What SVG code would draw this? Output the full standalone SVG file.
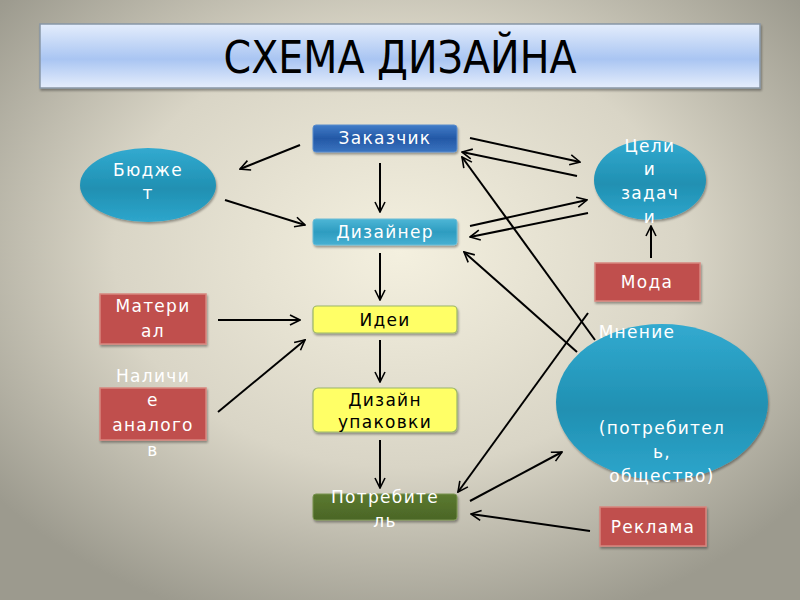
<svg xmlns="http://www.w3.org/2000/svg" width="800" height="600" viewBox="0 0 800 600">
<defs>
<radialGradient id="bg" cx="50%" cy="42%" r="65%">
<stop offset="0" stop-color="#f4f0df"/>
<stop offset="0.55" stop-color="#d9d5c6"/>
<stop offset="1" stop-color="#9c9a8e"/>
</radialGradient>
<linearGradient id="title" x1="0" y1="0" x2="0" y2="1">
<stop offset="0" stop-color="#e4edfc"/>
<stop offset="0.55" stop-color="#a9c5f2"/>
<stop offset="1" stop-color="#e6eefc"/>
</linearGradient>
<linearGradient id="blue" x1="0" y1="0" x2="0" y2="1">
<stop offset="0" stop-color="#3f7cc8"/>
<stop offset="0.5" stop-color="#2458a6"/>
<stop offset="1" stop-color="#3a74c0"/>
</linearGradient>
<linearGradient id="teal" x1="0" y1="0" x2="0" y2="1">
<stop offset="0" stop-color="#4cb6d6"/>
<stop offset="0.5" stop-color="#2e9cc0"/>
<stop offset="1" stop-color="#46b0d2"/>
</linearGradient>
<linearGradient id="ell" x1="0" y1="0" x2="0" y2="1">
<stop offset="0" stop-color="#32aad0"/>
<stop offset="0.55" stop-color="#2090b2"/>
<stop offset="1" stop-color="#2ea6cc"/>
</linearGradient>
<linearGradient id="olive" x1="0" y1="0" x2="0" y2="1">
<stop offset="0" stop-color="#5c7a30"/>
<stop offset="1" stop-color="#4a6526"/>
</linearGradient>
<marker id="ah" viewBox="0 0 12 12" refX="11" refY="6" markerWidth="12" markerHeight="12" markerUnits="userSpaceOnUse" orient="auto">
<path d="M1,1 L11,6 L1,11" fill="none" stroke="#000" stroke-width="1.6"/>
</marker>
<filter id="sh" x="-10%" y="-10%" width="130%" height="140%">
<feDropShadow dx="1" dy="2" stdDeviation="1.2" flood-color="#000" flood-opacity="0.35"/>
</filter>
</defs>
<style>
.t{font-family:"DejaVu Sans","Verdana",sans-serif;font-size:17px;text-anchor:middle;letter-spacing:1.3px}
.w{fill:#ffffff}
.k{fill:#000000}
.red{fill:#c0504d;stroke:#d8867f;stroke-width:1.5}
.yel{fill:#ffff66;stroke:#9bb56a;stroke-width:1.2}
.c line{stroke:#000;stroke-width:2;marker-end:url(#ah)}
</style>
<rect width="800" height="600" fill="url(#bg)"/>
<g id="title-box">
<rect x="40" y="24" width="720" height="64" fill="url(#title)" stroke="#8896a6" stroke-width="1.5" filter="url(#sh)"/>
<text x="400" y="73" font-family="DejaVu Sans Condensed, DejaVu Sans, sans-serif" font-size="44" text-anchor="middle" fill="#000">СХЕМА ДИЗАЙНА</text>
</g>
<g class="c" id="connectors">
<line x1="300" y1="145" x2="240" y2="169"/>
<line x1="225" y1="200" x2="305" y2="225"/>
<line x1="380" y1="163" x2="380" y2="212"/>
<line x1="470" y1="138" x2="580" y2="162"/>
<line x1="577" y1="176" x2="462" y2="152"/>
<line x1="470" y1="226" x2="587" y2="200"/>
<line x1="588" y1="213" x2="470" y2="237"/>
<line x1="651" y1="258" x2="651" y2="226"/>
<line x1="595" y1="340" x2="462" y2="157"/>
<line x1="577" y1="352" x2="464" y2="252"/>
<line x1="588" y1="313" x2="458" y2="492"/>
<line x1="470" y1="501" x2="562" y2="452"/>
<line x1="590" y1="531" x2="471" y2="514"/>
<line x1="218" y1="320" x2="300" y2="320"/>
<line x1="218" y1="412" x2="305" y2="340"/>
<line x1="380" y1="253" x2="380" y2="300"/>
<line x1="380" y1="340" x2="380" y2="382"/>
<line x1="380" y1="440" x2="380" y2="488"/>
</g>
<g id="zakazchik">
<rect x="313" y="125" width="144" height="27" rx="3" fill="url(#blue)" stroke="#5a8ccc" stroke-width="1" filter="url(#sh)"/>
<text class="t w" x="385" y="144">Заказчик</text>
</g>
<g id="dizainer">
<rect x="313" y="219" width="144" height="26" rx="3" fill="url(#teal)" stroke="#6cbcd6" stroke-width="1" filter="url(#sh)"/>
<text class="t w" x="385" y="238">Дизайнер</text>
</g>
<g id="idei">
<rect x="313" y="306" width="144" height="27" rx="4" class="yel" filter="url(#sh)"/>
<text class="t k" x="385" y="326">Идеи</text>
</g>
<g id="dizain-upakovki">
<rect x="313" y="388" width="144" height="44" rx="5" class="yel" filter="url(#sh)"/>
<text class="t k" x="385" y="406">Дизайн</text>
<text class="t k" x="385" y="428">упаковки</text>
</g>
<g id="potrebitel">
<rect x="313" y="494" width="144" height="26" rx="3" fill="url(#olive)" stroke="#7a9450" stroke-width="1" filter="url(#sh)"/>
<text class="t w" x="385" y="503">Потребите</text>
<text class="t w" x="385" y="527">ль</text>
</g>
<g id="budzhet">
<ellipse cx="148" cy="185" rx="68" ry="37" fill="url(#ell)" filter="url(#sh)"/>
<text class="t w" x="148" y="176">Бюдже</text>
<text class="t w" x="148" y="199">т</text>
</g>
<g id="tseli">
<ellipse cx="650" cy="180" rx="56" ry="40" fill="url(#ell)" filter="url(#sh)"/>
<text class="t w" x="650" y="152">Цели</text>
<text class="t w" x="650" y="175">и</text>
<text class="t w" x="650" y="199">задач</text>
<text class="t w" x="650" y="223">и</text>
</g>
<g id="moda">
<rect x="595" y="263" width="105" height="38" class="red" filter="url(#sh)"/>
<text class="t w" x="647" y="288">Мода</text>
</g>
<g id="mnenie">
<ellipse cx="662" cy="402" rx="106" ry="78" fill="url(#ell)" filter="url(#sh)"/>
<text class="t w" x="637" y="338">Мнение</text>
<text class="t w" x="662" y="434">(потребител</text>
<text class="t w" x="662" y="458">ь,</text>
<text class="t w" x="662" y="482">общество)</text>
</g>
<g id="material">
<rect x="100" y="294" width="106" height="50" class="red" filter="url(#sh)"/>
<text class="t w" x="153" y="312">Матери</text>
<text class="t w" x="153" y="337">ал</text>
</g>
<g id="nalichie">
<rect x="100" y="388" width="106" height="52" class="red" filter="url(#sh)"/>
<text class="t w" x="153" y="382">Наличи</text>
<text class="t w" x="153" y="406">е</text>
<text class="t w" x="153" y="431">аналого</text>
<text class="t w" x="153" y="456">в</text>
</g>
<g id="reklama">
<rect x="600" y="507" width="106" height="39" class="red" filter="url(#sh)"/>
<text class="t w" x="653" y="533">Реклама</text>
</g>
</svg>
